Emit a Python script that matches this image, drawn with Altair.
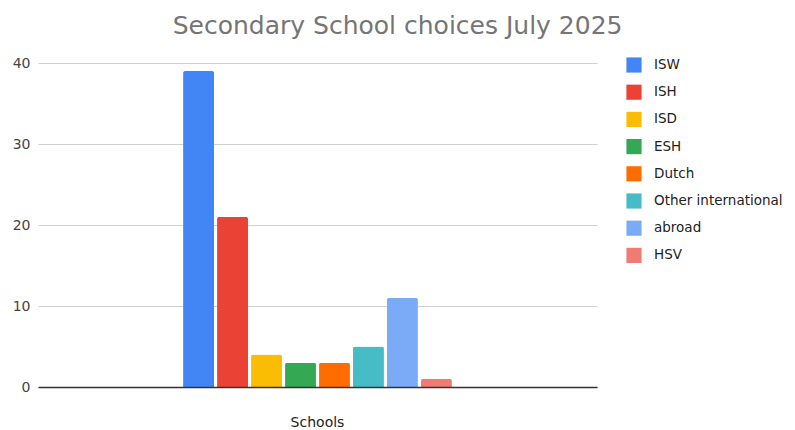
import altair as alt
import pandas as pd

schools = ["ISW", "ISH", "ISD", "ESH", "Dutch", "Other international", "abroad", "HSV"]
counts = [39, 21, 4, 3, 3, 5, 11, 1]
colors = ["#4285F4", "#EA4335", "#FBBC04", "#34A853", "#FF6D01", "#46BDC6", "#7BAAF7", "#F07B72"]
category = "Schools"
y_ticks = [0, 10, 20, 30, 40]

df = pd.DataFrame({"cat": [category] * len(schools), "school": schools, "count": counts})

FONT = "DejaVu Sans"

bars = alt.Chart(df).mark_bar(cornerRadiusTopLeft=2, cornerRadiusTopRight=2).encode(
    x=alt.X("cat:N", title=None,
            scale=alt.Scale(domain=[category], paddingInner=0, paddingOuter=0.528),
            axis=alt.Axis(labelAngle=0, labelFontSize=14, labelColor="#222222", labelFont=FONT,
                          labelPadding=28, ticks=False, domainColor="#333333", domainWidth=1.5,
                          zindex=2)),
    xOffset=alt.XOffset("school:N", scale=alt.Scale(domain=schools, paddingInner=0.09, paddingOuter=0.045)),
    y=alt.Y("count:Q", title=None,
            scale=alt.Scale(domain=[0, 40], nice=False),
            axis=alt.Axis(values=y_ticks, labelFontSize=14, labelColor="#444444", labelFont=FONT,
                          ticks=False, domain=False, gridColor="#d0d0d0", labelPadding=8)),
    color=alt.Color("school:N", title=None,
                    scale=alt.Scale(domain=schools, range=colors),
                    legend=alt.Legend(orient="none", legendX=588, legendY=-6,
                                      symbolType="square", symbolSize=230, symbolStrokeWidth=0,
                                      labelFontSize=13.5, labelFont=FONT, labelColor="#222222",
                                      rowPadding=11.2, labelOffset=12, labelLimit=200)),
)

chart = bars.properties(
    width=559, height=324,
    title=alt.TitleParams("Secondary School choices July 2025", fontSize=25, font=FONT,
                          color="#757575", fontWeight="normal", anchor="middle", frame="bounds",
                          offset=17),
    autosize=alt.AutoSizeParams(type="none"),
    padding={"left": 30, "top": 55, "right": 189, "bottom": 42},
).configure_view(stroke=None)

chart.save("out.html", embed_options={"renderer": "svg", "actions": False})
